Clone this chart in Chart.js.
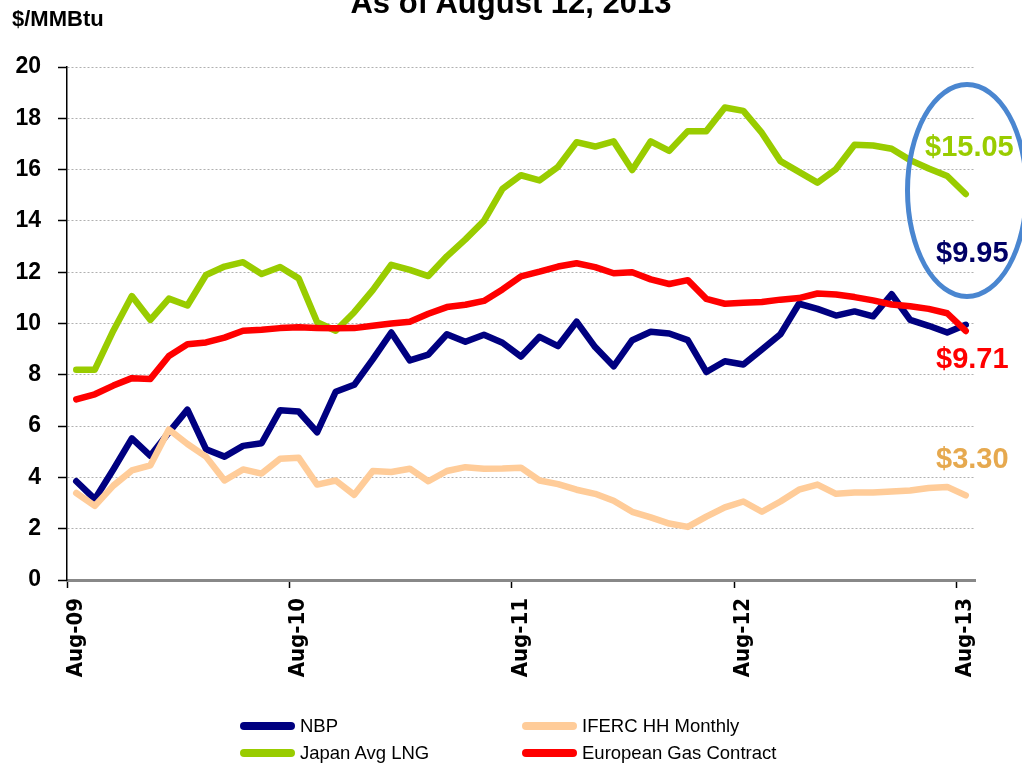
<!DOCTYPE html>
<html>
<head>
<meta charset="utf-8">
<script src="https://cdn.jsdelivr.net/npm/chart.js@4/dist/chart.umd.min.js"></script>
<style>
  html, body { margin: 0; padding: 0; background: #fff; }
  body { width: 1022px; height: 764px; overflow: hidden; position: relative; font-family: 'Liberation Sans', Arial, sans-serif; }
  #chart { position: absolute; left: 0; top: 0; }
  .txt { position: absolute; white-space: nowrap; }
  .title { left: 0; width: 1022px; top: -13px; text-align: center; font-size: 31px; line-height: 31px; font-weight: bold; color: #000; }
  .unit { left: 12px; top: 8px; font-size: 22px; line-height: 22px; font-weight: bold; color: #000; }
  .callout { font-size: 29px; line-height: 29px; font-weight: bold; }
  .ring { position: absolute; left: 905px; top: 82px; width: 124px; height: 217px; box-sizing: border-box;
          border: 5px solid #4a86d0; border-radius: 50%; }
  .legend-item { position: absolute; display: flex; align-items: center; height: 20px; font-size: 18.5px; color: #000; }
  .swatch { display: inline-block; width: 55px; height: 8px; border-radius: 4px; margin-right: 5px; }
</style>
</head>
<body>
<canvas id="chart" width="1022" height="764"></canvas>

<div class="txt title">As of August 12, 2013</div>
<div class="txt unit">$/MMBtu</div>

<div class="ring"></div>
<div class="txt callout" style="left:925px; top:132px; color:#99cc00;">$15.05</div>
<div class="txt callout" style="left:936px; top:238px; color:#000066;">$9.95</div>
<div class="txt callout" style="left:936px; top:344px; color:#ff0000;">$9.71</div>
<div class="txt callout" style="left:936px; top:444px; color:#e6a94f;">$3.30</div>

<div id="legend"></div>

<script>
// monthly, Aug-09 .. Aug-13
const months = [
  'Aug-09','Sep-09','Oct-09','Nov-09','Dec-09','Jan-10','Feb-10','Mar-10','Apr-10','May-10','Jun-10','Jul-10',
  'Aug-10','Sep-10','Oct-10','Nov-10','Dec-10','Jan-11','Feb-11','Mar-11','Apr-11','May-11','Jun-11','Jul-11',
  'Aug-11','Sep-11','Oct-11','Nov-11','Dec-11','Jan-12','Feb-12','Mar-12','Apr-12','May-12','Jun-12','Jul-12',
  'Aug-12','Sep-12','Oct-12','Nov-12','Dec-12','Jan-13','Feb-13','Mar-13','Apr-13','May-13','Jun-13','Jul-13',
  'Aug-13'
];

const nbp = [3.85,3.15,4.31,5.52,4.84,5.76,6.64,5.10,4.81,5.23,5.33,6.62,
  6.57,5.76,7.34,7.61,8.60,9.65,8.56,8.79,9.58,9.29,9.56,9.25,
  8.71,9.48,9.12,10.07,9.08,8.33,9.35,9.68,9.61,9.35,8.11,8.53,
  8.40,8.99,9.58,10.77,10.57,10.31,10.47,10.28,11.14,10.14,9.91,9.65,
  9.95];

const iferc = [3.39,2.89,3.68,4.27,4.47,5.87,5.30,4.81,3.88,4.31,4.15,4.73,
  4.77,3.72,3.88,3.32,4.25,4.21,4.34,3.85,4.25,4.40,4.34,4.35,
  4.38,3.88,3.74,3.52,3.36,3.09,2.66,2.44,2.20,2.07,2.47,2.83,
  3.06,2.66,3.06,3.52,3.72,3.36,3.41,3.41,3.45,3.49,3.59,3.63,
  3.30];

const japan = [8.20,8.20,9.72,11.07,10.14,10.97,10.70,11.89,12.22,12.39,11.93,12.20,
  11.76,10.05,9.72,10.44,11.30,12.29,12.09,11.85,12.62,13.28,14.00,15.25,
  15.78,15.58,16.11,17.07,16.90,17.10,15.98,17.10,16.73,17.50,17.50,18.42,
  18.29,17.43,16.33,15.91,15.49,16.02,16.97,16.94,16.81,16.37,16.04,15.75,
  15.05];

const european = [7.04,7.24,7.58,7.87,7.84,8.73,9.19,9.26,9.45,9.72,9.76,9.82,
  9.85,9.82,9.81,9.82,9.91,10.00,10.07,10.38,10.64,10.73,10.88,11.33,
  11.84,12.02,12.22,12.35,12.20,11.96,12.00,11.72,11.54,11.69,10.96,10.77,
  10.81,10.84,10.93,10.99,11.17,11.13,11.03,10.90,10.74,10.67,10.57,10.40,
  9.71];

const seriesNames = ['NBP', 'IFERC HH Monthly', 'Japan Avg LNG', 'European Gas Contract'];
const seriesColors = ['#000080', '#ffcc99', '#99cc00', '#ff0000'];
const yTicks = [0, 2, 4, 6, 8, 10, 12, 14, 16, 18, 20];

const lineStyle = (i, data) => ({
  label: seriesNames[i],
  data: data,
  borderColor: seriesColors[i],
  backgroundColor: seriesColors[i],
  borderWidth: 6.5,
  pointRadius: 0,
  tension: 0,
  fill: false,
  borderJoinStyle: 'round',
  borderCapStyle: 'round',
});

// dataset 0 is drawn on top in Chart.js, so the last Excel series goes first
const datasets = [
  lineStyle(3, european),
  lineStyle(2, japan),
  lineStyle(1, iferc),
  lineStyle(0, nbp),
];

new Chart(document.getElementById('chart'), {
  type: 'line',
  data: { labels: months, datasets: datasets },
  options: {
    responsive: false,
    animation: false,
    devicePixelRatio: 1,
    layout: { padding: { top: 67, right: 47, left: 0, bottom: 0 } },
    plugins: {
      legend: { display: false },
      title: { display: false },
      tooltip: { enabled: false },
    },
    scales: {
      x: {
        type: 'category',
        offset: true,
        afterFit: (scale) => { scale.height = 184; },
        border: { display: true, color: '#888888', width: 3 },
        grid: {
          offset: true,
          drawOnChartArea: false,
          drawTicks: true,
          tickLength: 8,
          tickWidth: 1.5,
          tickColor: (ctx) => (ctx.index % 12 === 0 ? '#000' : 'rgba(0,0,0,0)'),
        },
        ticks: {
          autoSkip: false,
          maxRotation: 90,
          minRotation: 90,
          padding: 10,
          color: '#000',
          font: { family: "'DejaVu Sans Condensed', 'DejaVu Sans'", size: 22, weight: 'bold' },
          callback: (value, index) => (index % 12 === 0 ? months[index] : ''),
        },
      },
      y: {
        min: yTicks[0],
        max: yTicks[yTicks.length - 1],
        afterFit: (scale) => { scale.width = 67; },
        afterBuildTicks: (scale) => { scale.ticks = yTicks.map(v => ({ value: v })); },
        border: { display: true, color: '#000', width: 1.5, dash: [2, 2] },
        grid: {
          color: '#b0b0b0',
          lineWidth: 1,
          drawTicks: true,
          tickLength: 9,
          tickColor: '#000',
          tickWidth: 1.5,
        },
        ticks: {
          padding: 17,
          color: '#000',
          font: { family: "'Liberation Sans', Arial", size: 23, weight: 'bold' },
        },
      },
    },
  },
});

// legend: two rows, two columns, Excel style
const legendPos = [
  { i: 0, left: 240, top: 716 },
  { i: 1, left: 522, top: 716 },
  { i: 2, left: 240, top: 743 },
  { i: 3, left: 522, top: 743 },
];
const legend = document.getElementById('legend');
legendPos.forEach(p => {
  const item = document.createElement('div');
  item.className = 'legend-item';
  item.style.left = p.left + 'px';
  item.style.top = p.top + 'px';
  const sw = document.createElement('span');
  sw.className = 'swatch';
  sw.style.background = seriesColors[p.i];
  const label = document.createElement('span');
  label.textContent = seriesNames[p.i];
  item.appendChild(sw);
  item.appendChild(label);
  legend.appendChild(item);
});
</script>
</body>
</html>
